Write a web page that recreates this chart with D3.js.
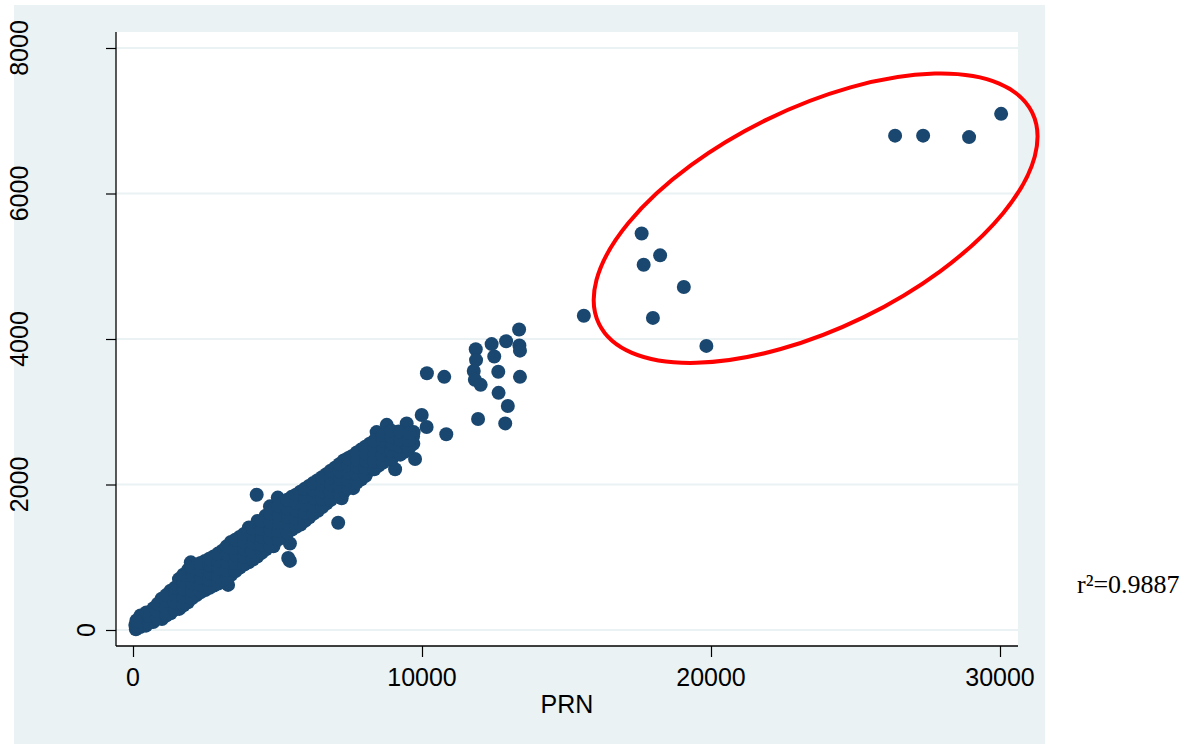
<!DOCTYPE html>
<html>
<head>
<meta charset="utf-8">
<script src="https://d3js.org/d3.v7.min.js"></script>
<style>
  body { margin: 0; background: #fff; }
  text { font-family: 'Liberation Sans', Arial, sans-serif; }
</style>
</head>
<body>
<div id="chart"></div>
<script>
// axis ticks
var xTicks = [0, 10000, 20000, 30000];
var yTicks = [0, 2000, 4000, 6000, 8000];
var xTitle = 'PRN';
var r2Label = 'r\u00B2=0.9887';

// dense band along the diagonal, [PRN, y]
var bandPoints = [
  [100,10],[80,70],[120,130],
  [250,40],[230,120],[260,200],
  [450,60],[440,150],[460,240],
  [700,110],[690,200],[710,300],
  [1000,150],[980,250],[1010,340],[990,430],
  [1300,230],[1290,330],[1310,430],[1300,540],
  [1600,290],[1580,400],[1620,510],[1600,620],[1590,700],
  [1900,380],[1880,490],[1920,600],[1900,710],[1910,830],[2000,930],
  [2200,480],[2180,590],[2220,700],[2200,800],[2210,900],
  [2500,550],[2480,660],[2520,760],[2500,860],[2490,950],
  [2800,610],[2790,720],[2810,820],[2800,920],[2790,1010],
  [3100,660],[3080,770],[3110,880],[3100,990],[3090,1090],[3290,620],
  [3400,760],[3380,870],[3420,980],[3400,1090],[3390,1210],
  [3700,860],[3690,970],[3710,1080],[3700,1180],[3690,1280],
  [4000,930],[3980,1040],[4010,1150],[4000,1260],[3990,1360],[4010,1410],
  [4300,1010],[4280,1120],[4310,1230],[4300,1340],[4290,1440],[4310,1500],[4280,1860],
  [4600,1110],[4580,1220],[4610,1330],[4600,1440],[4590,1570],[4740,1700],
  [4900,1200],[4880,1310],[4910,1420],[4900,1530],[4890,1660],[5010,1820],[4860,1150],
  [5200,1300],[5180,1410],[5210,1520],[5200,1630],[5190,1750],
  [5500,1380],[5480,1490],[5510,1600],[5500,1710],[5490,1830],[5430,950],[5370,990],[5430,1190],
  [5800,1450],[5780,1560],[5810,1670],[5800,1780],[5790,1900],
  [6100,1550],[6080,1660],[6110,1770],[6100,1880],[6090,1980],
  [6400,1640],[6380,1750],[6410,1860],[6400,1960],[6390,2060],
  [6700,1740],[6680,1850],[6710,1950],[6700,2050],[6690,2140],
  [7000,1840],[6980,1950],[7010,2050],[7000,2150],[6990,2230],[7100,1475],[7220,1810],
  [7300,1900],[7280,2010],[7310,2110],[7300,2220],[7290,2330],
  [7600,1990],[7580,2100],[7610,2200],[7600,2300],[7570,2390],[7620,1950],
  [7900,2070],[7880,2180],[7910,2280],[7900,2380],[7890,2480],
  [8200,2200],[8180,2290],[8210,2390],[8200,2480],[8190,2560],
  [8500,2260],[8480,2370],[8510,2470],[8500,2560],[8430,2720],
  [8800,2340],[8780,2450],[8810,2550],[8800,2640],[8780,2820],
  [9070,2210],[9080,2480],[9110,2580],[9100,2680],[9190,2730],
  [9400,2450],[9380,2560],[9410,2660],[9470,2840],
  [9760,2350],[9700,2560],[9690,2660],[9710,2720]
];

// more points inside the same band, between the columns above
var bandFill = [
  [150,50],[160,110],
  [550,100],[560,200],
  [850,160],[840,260],[860,360],
  [1150,200],[1140,300],[1160,400],[1150,480],
  [1450,280],[1440,380],[1460,480],[1450,580],
  [1750,340],[1740,450],[1760,560],[1750,660],[1740,760],
  [2050,440],[2040,540],[2060,650],[2050,750],[2040,850],
  [2350,520],[2340,620],[2360,720],[2350,820],[2340,920],
  [2650,580],[2640,690],[2660,790],[2650,890],[2640,980],
  [2950,640],[2940,740],[2960,850],[2950,950],[2940,1050],
  [3250,710],[3240,820],[3260,930],[3250,1040],[3240,1150],
  [3550,810],[3540,920],[3560,1030],[3550,1130],[3540,1240],
  [3850,900],[3840,1010],[3860,1110],[3850,1210],[3840,1320],
  [4150,970],[4140,1080],[4160,1190],[4150,1300],[4140,1400],
  [4450,1060],[4440,1170],[4460,1280],[4450,1390],[4440,1500],
  [4750,1150],[4740,1260],[4760,1370],[4750,1480],[4740,1600],
  [5050,1250],[5040,1360],[5060,1470],[5050,1580],[5040,1700],
  [5350,1340],[5340,1450],[5360,1560],[5350,1670],[5340,1790],
  [5650,1420],[5640,1530],[5660,1640],[5650,1750],[5640,1860],
  [5950,1500],[5940,1610],[5960,1720],[5950,1830],[5940,1940],
  [6250,1600],[6240,1700],[6260,1810],[6250,1920],[6240,2020],
  [6550,1690],[6540,1800],[6560,1900],[6550,2000],[6540,2100],
  [6850,1790],[6840,1900],[6860,2000],[6850,2100],[6840,2190],
  [7150,1870],[7140,1980],[7160,2080],[7150,2180],[7140,2280],
  [7450,1950],[7440,2060],[7460,2160],[7450,2260],[7440,2360],
  [7750,2030],[7740,2140],[7760,2240],[7750,2340],[7740,2440],
  [8050,2120],[8040,2230],[8060,2330],[8050,2430],[8040,2520],
  [8350,2210],[8340,2320],[8360,2420],[8350,2520],[8340,2600],
  [8650,2300],[8640,2410],[8660,2510],[8650,2600],[8640,2680],
  [8950,2350],[8940,2460],[8960,2560],[8950,2650],[8940,2740],
  [9250,2410],[9240,2520],[9260,2620],[9250,2720],
  [9550,2500],[9540,2610],[9560,2710]
];

// scattered points between 10000 and 16000
var midPoints = [
  [9990,2955],[10160,2790],[10840,2690],[10170,3530],[10770,3480],
  [11860,3860],[11870,3710],[11790,3560],[11830,3440],[12030,3370],[11940,2900],
  [12410,3930],[12500,3760],[12640,3550],[12650,3260],[12910,3970],[12970,3080],[12880,2840],
  [13360,4130],[13370,3910],[13390,3840],[13390,3480],
  [15600,4320]
];

// circled outliers
var outlierPoints = [
  [17600,5450],[18240,5150],[17670,5020],[19060,4715],[17990,4290],[19840,3905],
  [26370,6795],[27340,6795],[28930,6775],[30040,7095]
];

// centre of the red ring, in data units
var ringCentre = [23620, 5660];

var width = 1192;
var height = 744;
var plot = {left: 116, right: 1018, top: 32, bottom: 646};
var navy = '#1a476f';
var bg = '#eaf2f3';

var svg = d3.select('#chart').append('svg').attr('width', width).attr('height', height);

svg.append('rect').attr('x', 14).attr('y', 5).attr('width', 1031).attr('height', height - 5).attr('fill', bg);
svg.append('rect')
    .attr('x', plot.left).attr('y', plot.top)
    .attr('width', plot.right - plot.left).attr('height', plot.bottom - plot.top)
    .attr('fill', '#fff');

var x = d3.scaleLinear().domain([0, 30000]).range([133, 1000]);
var y = d3.scaleLinear().domain([0, 8000]).range([630, 48]);

// grid lines
svg.append('g').selectAll('line').data(yTicks).join('line')
    .attr('x1', plot.left).attr('x2', plot.right)
    .attr('y1', d => y(d)).attr('y2', d => y(d))
    .attr('stroke', bg).attr('stroke-width', 2);

// points
var allPoints = bandPoints.concat(bandFill, midPoints, outlierPoints);
svg.append('g').selectAll('circle').data(allPoints).join('circle')
    .attr('cx', d => x(d[0]))
    .attr('cy', d => y(d[1]))
    .attr('r', 7)
    .attr('fill', navy);

// axes
var yAxis = svg.append('g').attr('transform', `translate(${plot.left},0)`)
    .call(d3.axisLeft(y).tickValues(yTicks).tickSize(10).tickFormat(''));
yAxis.select('.domain').remove();
yAxis.selectAll('line').attr('stroke', '#000').attr('stroke-width', 1.2);

var xAxis = svg.append('g').attr('transform', `translate(0,${plot.bottom})`)
    .call(d3.axisBottom(x).tickValues(xTicks).tickSize(11).tickFormat(''));
xAxis.select('.domain').remove();
xAxis.selectAll('line').attr('stroke', '#000').attr('stroke-width', 1.2);

svg.append('line').attr('x1', plot.left).attr('x2', plot.left)
    .attr('y1', plot.top).attr('y2', plot.bottom)
    .attr('stroke', '#000').attr('stroke-width', 1.3);
svg.append('line').attr('x1', plot.left).attr('x2', plot.right)
    .attr('y1', plot.bottom).attr('y2', plot.bottom)
    .attr('stroke', '#000').attr('stroke-width', 1.3);

// tick labels
svg.append('g').selectAll('text').data(yTicks).join('text')
    .attr('transform', d => `translate(${d === 0 ? 95 : 28},${y(d)}) rotate(-90)`)
    .attr('text-anchor', 'middle')
    .style('font-size', '25px')
    .text(d => d);

svg.append('g').selectAll('text').data(xTicks).join('text')
    .attr('x', d => x(d))
    .attr('y', 686)
    .attr('text-anchor', 'middle')
    .style('font-size', '25px')
    .text(d => d);

svg.append('text')
    .attr('x', (plot.left + plot.right) / 2)
    .attr('y', 713)
    .attr('text-anchor', 'middle')
    .style('font-size', '25px')
    .text(xTitle);

// red ring round the outliers
var cx = x(ringCentre[0]), cy = y(ringCentre[1]);
svg.append('ellipse')
    .attr('cx', cx).attr('cy', cy)
    .attr('rx', 241).attr('ry', 110)
    .attr('transform', `rotate(-26 ${cx} ${cy})`)
    .attr('fill', 'none')
    .attr('stroke', '#ff0000')
    .attr('stroke-width', 4);

svg.append('text')
    .attr('x', 1077)
    .attr('y', 593)
    .style('font-family', "'Liberation Serif', 'Times New Roman', serif")
    .style('font-size', '26px')
    .text(r2Label);
</script>
</body>
</html>
